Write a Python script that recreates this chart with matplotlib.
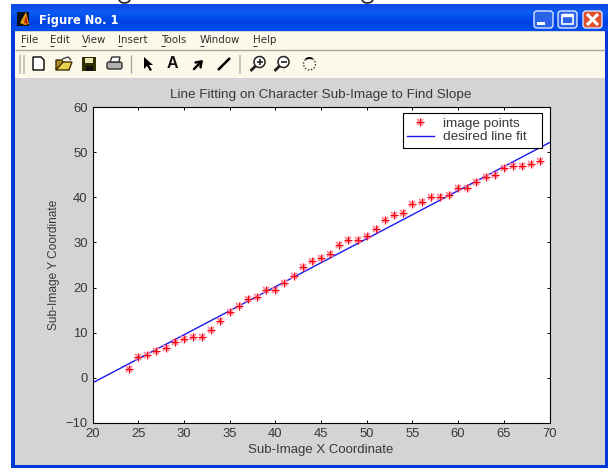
import matplotlib
matplotlib.use('Agg')
import matplotlib.pyplot as plt
import numpy as np
from matplotlib.legend_handler import HandlerTuple
from matplotlib.patches import Rectangle, FancyBboxPatch, Circle, Polygon, Arc

# DATA
x_points = [24, 25, 26, 27, 28, 29, 30, 31, 32, 33, 34, 35, 36, 37, 38, 39, 40, 41, 42, 43, 44, 45, 46,
            47, 48, 49, 50, 51, 52, 53, 54, 55, 56, 57, 58, 59, 60, 61, 62, 63, 64, 65, 66, 67, 68, 69]
y_points = [2, 4.5, 5, 6, 6.5, 8, 8.5, 9, 9, 10.5, 12.5, 14.5, 16, 17.5, 18, 19.5, 19.5, 21, 22.5, 24.5, 26, 26.5, 27.5,
            29.5, 30.5, 30.5, 31.5, 33, 35, 36, 36.5, 38.5, 39, 40, 40, 40.5, 42, 42, 43.5, 44.5, 45, 46.5, 47, 47, 47.5, 48]
x_fit = [20, 70]
y_fit = [-1.2, 52.2]
x_ticks = [20, 25, 30, 35, 40, 45, 50, 55, 60, 65, 70]
y_ticks = [-10, 0, 10, 20, 30, 40, 50, 60]
menu_names = ['File', 'Edit', 'View', 'Insert', 'Tools', 'Window', 'Help']
menu_x = [21, 50, 82, 118, 161, 200, 253]

W, H = 609, 469
plt.rcParams['font.family'] = ['Liberation Sans', 'DejaVu Sans']
fig = plt.figure(figsize=(W / 100, H / 100), dpi=100, facecolor='white')

# WINDOW (pixel coordinates)
win = fig.add_axes([0, 0, 1, 1])
win.set_xlim(0, W)
win.set_ylim(H, 0)
win.axis('off')

def rect(x0, y0, x1, y1, color, z=1):
    win.add_patch(Rectangle((x0, y0), x1 - x0, y1 - y0, fc=color, ec='none', zorder=z))

def seg(xs, ys, color='black', lw=1.5, z=4):
    win.plot(xs, ys, color=color, lw=lw, solid_capstyle='butt', zorder=z)

rect(11, 4, 608, 468, '#0038d8')
rect(15, 31, 605, 465, '#d4d4d4', 2)
rect(15, 32, 605, 78, '#fdf9ea', 3)
seg([15, 605], [50.5, 50.5], '#a8a8a0', 1)
seg([20, 20], [55, 74], '#c8c8bc', 1.5)
seg([24, 24], [55, 74], '#c8c8bc', 1.5)

# title bar gradient
grad = np.array([[0.05, 0.30, 0.90], [0.05, 0.36, 0.96], [0.0, 0.30, 0.93], [0.0, 0.26, 0.88], [0.0, 0.30, 0.92]])
win.imshow(grad[:, None, :], extent=(11, 608, 31, 4), aspect='auto', zorder=2, interpolation='bilinear')
win.set_xlim(0, W)
win.set_ylim(H, 0)
win.text(39, 20.5, 'Figure No. 1', color='white', fontsize=8.3, fontweight='bold', family='DejaVu Sans',
         va='center', ha='left', zorder=5)

# matlab icon
rect(17, 12, 29, 26, '#101018', 4)
win.add_patch(Polygon([[20, 23], [26, 12], [29, 24], [25, 25]], fc='#e8a010', ec='none', zorder=5))
win.add_patch(Polygon([[24, 23], [26, 15], [28, 24]], fc='#c02010', ec='none', zorder=6))

# window buttons
for bx, col in [(533, '#2a62e8'), (557, '#2a62e8'), (582, '#e0502c')]:
    win.add_patch(FancyBboxPatch((bx + 1, 11), 19, 17, boxstyle='round,pad=0,rounding_size=3',
                                 fc=col, ec='#d8e4ff', lw=1, zorder=4))
rect(537, 22, 545, 25, 'white', 5)
win.add_patch(Rectangle((562, 15), 11, 9, fc='none', ec='white', lw=1.2, zorder=5))
seg([562, 573], [15.5, 15.5], 'white', 2.5, 5)
seg([587, 598], [14, 25], 'white', 2.2, 5)
seg([587, 598], [25, 14], 'white', 2.2, 5)

# cut off text at the top edge
for cx in (124.5, 367.5):
    win.add_patch(Arc((cx, -1), 11, 8, theta1=0, theta2=180, color='#202020', lw=1.2, zorder=4))

# menu
for name, mx in zip(menu_names, menu_x):
    win.text(mx, 40, name, fontsize=7.4, color='#303030', family='DejaVu Sans', va='center', ha='left', zorder=5)
    seg([mx, mx + 4], [46, 46], '#303030', 0.7)

# toolbar icons
win.add_patch(Polygon([[33, 57], [41, 57], [44, 60], [44, 70], [33, 70]], fc='white', ec='black', lw=1, zorder=4))
win.add_patch(Polygon([[56, 70], [59, 62], [72, 62], [69, 70]], fc='#e8d050', ec='#403000', lw=1, zorder=4))
win.add_patch(Polygon([[56, 70], [56, 60], [62, 60], [63, 62]], fc='#b09020', ec='#403000', lw=1, zorder=4))
seg([62, 68, 71], [59, 57, 60], '#404040', 1)
rect(82, 57, 96, 71, '#303000', 4)
rect(85, 58, 93, 63, '#e8e4b0', 5)
rect(86, 66, 93, 71, '#101010', 5)
win.add_patch(FancyBboxPatch((107, 62), 15, 7, boxstyle='round,pad=0,rounding_size=2', fc='#b0b0b0', ec='#303030', lw=1, zorder=4))
win.add_patch(Polygon([[110, 62], [112, 57], [120, 57], [119, 62]], fc='white', ec='#303030', lw=1, zorder=5))
seg([130.5, 130.5], [55, 73], '#a8a8a0', 1)
win.add_patch(Polygon([[144, 57], [144, 69], [147, 66], [150, 71], [152, 70], [149, 65], [153, 65]], fc='black', ec='none', zorder=4))
win.text(172.5, 64, 'A', fontsize=11.5, fontweight='bold', color='#101010', ha='center', va='center', zorder=5)
win.annotate('', xy=(205, 58), xytext=(192, 71), arrowprops=dict(arrowstyle='->,head_width=0.25,head_length=0.35', color='black', lw=1.8), zorder=5)
seg([218, 230], [70, 58], 'black', 1.8)
seg([240, 240], [55, 74], '#c8c8bc', 1.5)
for cx, sign in [(259.5, True), (283.5, False)]:
    win.add_patch(Circle((cx, 62), 5.5, fc='white', ec='#202020', lw=1.1, zorder=4))
    seg([cx - 4, cx - 9], [66, 71], '#202020', 2)
    seg([cx - 3, cx + 3], [62, 62], '#202020', 1.2, 5)
    if sign:
        seg([cx, cx], [59, 65], '#202020', 1.2, 5)
win.add_patch(Circle((309.5, 64), 6, fc='none', ec='#303030', lw=1, ls=(0, (1, 1.3)), zorder=4))
win.add_patch(Arc((309.5, 64), 12, 12, theta1=230, theta2=300, color='black', lw=1.3, zorder=4))

# CHART
left, right, top, bottom = 92.5, 549.5, 107.5, 422.5
ax = fig.add_axes([left / W, 1 - bottom / H, (right - left) / W, (bottom - top) / H], facecolor='white', zorder=5)

fit_line, = ax.plot(x_fit, y_fit, color='#1818f0', lw=1, zorder=2)
halo, = ax.plot(x_points, y_points, ls='none', marker='x', ms=5, mec='#ff8a9c', mew=1.3, zorder=3)
core, = ax.plot(x_points, y_points, ls='none', marker='+', ms=6.2, mec='#ff0010', mew=0.9, zorder=4)

ax.set_xlim(20, 70)
ax.set_ylim(-10, 60)
ax.set_xticks(x_ticks)
ax.set_yticks(y_ticks)
ax.tick_params(direction='in', top=True, right=True, length=2.5, width=0.7, labelsize=9.4, labelcolor='#383838', pad=3.5)
ax.tick_params(axis='x', pad=4)
for s in ax.spines.values():
    s.set_linewidth(0.8)

ax.set_title('Line Fitting on Character Sub-Image to Find Slope', fontsize=9.7, color='#383838', pad=6.5)
ax.set_xlabel('Sub-Image X Coordinate', fontsize=9.5, color='#383838', labelpad=3)
ax.set_ylabel('Sub-Image Y Coordinate', fontsize=8.6, color='#383838', labelpad=4)

leg = ax.legend([(halo, core), fit_line], ['image points', 'desired line fit'],
                handler_map={tuple: HandlerTuple(ndivide=1, pad=0)},
                loc='upper left', bbox_to_anchor=(0.6794, 0.872, 0.304, 0.109), mode='expand',
                fontsize=9.7, fancybox=False, framealpha=1, edgecolor='black', borderpad=0.3,
                labelspacing=0.08, handlelength=2.0, handletextpad=0.67, borderaxespad=0)
leg.get_frame().set_linewidth(0.8)
for t in leg.get_texts():
    t.set_color('#383838')

fig.savefig('out.png', dpi=100)
